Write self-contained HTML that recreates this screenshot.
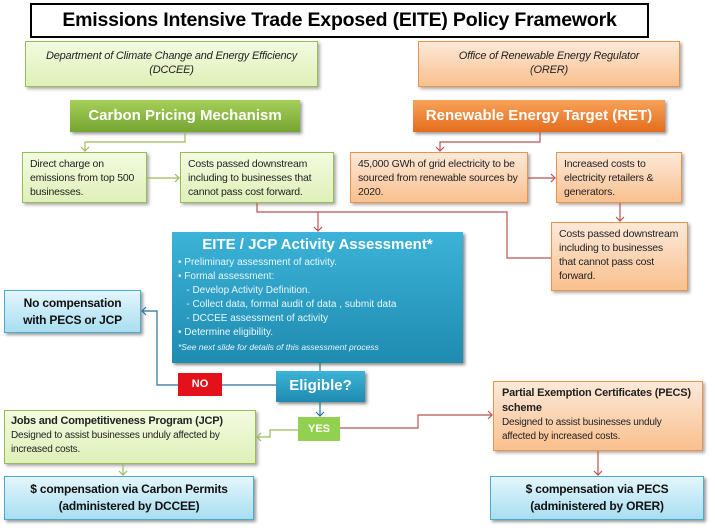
<!DOCTYPE html>
<html><head><meta charset="utf-8"><style>
body{margin:0;width:715px;height:530px;background:#fff;position:relative;overflow:hidden;font-family:"Liberation Sans",sans-serif;}
.b{position:absolute;box-sizing:border-box;}
.g{background:linear-gradient(#f3fbe0,#dff0b8);border:1px solid #9bbb59;box-shadow:2px 2px 3px #aaa;font-size:10.5px;color:#222;padding:4px 7px;line-height:14px;letter-spacing:-0.2px;}
.o{background:linear-gradient(#fde9d9,#f9c08e);border:1px solid #e7944c;box-shadow:2px 2px 3px #aaa;font-size:10.5px;color:#222;padding:4px 7px;line-height:14px;letter-spacing:-0.2px;}
.lb{background:linear-gradient(#e4f6fc,#a8def1);border:1px solid #4aaccc;box-shadow:2px 2px 3px #999;font-weight:bold;font-size:12px;text-align:center;color:#111;line-height:17px;letter-spacing:-0.2px;}
</style></head><body>
<div class="b" style="left:30px;top:3px;width:619px;height:35px;border:2px solid #000;font-weight:bold;font-size:19.5px;text-align:center;line-height:31px;letter-spacing:-0.2px;">Emissions Intensive Trade Exposed (EITE) Policy Framework</div>
<div class="b g" style="left:25px;top:41px;width:293px;height:46px;text-align:center;font-style:italic;font-size:11px;padding-top:7px;">Department of Climate Change and Energy Efficiency<br>(DCCEE)</div>
<div class="b o" style="left:418px;top:41px;width:262px;height:46px;text-align:center;font-style:italic;font-size:11px;padding-top:7px;">Office of Renewable Energy Regulator<br>(ORER)</div>
<div class="b" style="left:70px;top:100px;width:230px;height:32px;background:linear-gradient(#a6cf5a,#75a531);color:#fff;font-weight:bold;font-size:15px;text-align:center;line-height:32px;box-shadow:2px 2px 3px #999;">Carbon Pricing Mechanism</div>
<div class="b" style="left:413px;top:100px;width:252px;height:32px;background:linear-gradient(#f8a25a,#e46c1c);color:#fff;font-weight:bold;font-size:15px;text-align:center;line-height:32px;box-shadow:2px 2px 3px #999;">Renewable Energy Target (RET)</div>
<div class="b g" style="left:22px;top:152px;width:125px;height:51px;">Direct charge on emissions from top 500 businesses.</div>
<div class="b g" style="left:180px;top:152px;width:154px;height:51px;">Costs passed downstream including to businesses that cannot pass cost forward.</div>
<div class="b o" style="left:350px;top:152px;width:178px;height:51px;">45,000 GWh of grid electricity to be sourced from renewable sources by 2020.</div>
<div class="b o" style="left:556px;top:152px;width:126px;height:51px;">Increased costs to electricity retailers &amp; generators.</div>
<div class="b o" style="left:551px;top:222px;width:137px;height:69px;">Costs passed downstream including to businesses that cannot pass cost forward.</div>
<div class="b" style="left:172px;top:232px;width:291px;height:131px;background:linear-gradient(#3cb3d8,#1f8bb0);color:#e8f6fb;box-shadow:2px 2px 3px #888;font-size:10px;line-height:14px;padding:2px 6px;">
<div style="font-weight:bold;font-size:15px;color:#fff;text-align:center;line-height:22px;">EITE / JCP Activity Assessment*</div>
• Preliminary assessment of activity.<br>• Formal assessment:<br>&nbsp;&nbsp;&nbsp;- Develop Activity Definition.<br>&nbsp;&nbsp;&nbsp;- Collect data, formal audit of data , submit data<br>&nbsp;&nbsp;&nbsp;- DCCEE assessment of activity<br>• Determine eligibility.<br><i style="font-size:8.5px;">*See next slide for details of this assessment process</i></div>
<div class="b lb" style="left:4px;top:290px;width:137px;height:43px;padding-top:4px;">No compensation<br>with PECS or JCP</div>
<div class="b" style="left:178px;top:373px;width:44px;height:23px;background:#e3121a;color:#fff;font-weight:bold;font-size:11px;text-align:center;line-height:23px;">NO</div>
<div class="b" style="left:276px;top:371px;width:89px;height:31px;background:linear-gradient(#3cb3d8,#1f8bb0);color:#fff;font-weight:bold;font-size:15px;text-align:center;line-height:30px;box-shadow:2px 2px 3px #888;">Eligible?</div>
<div class="b" style="left:298px;top:417px;width:42px;height:24px;background:#92d050;color:#fff;font-weight:bold;font-size:11px;text-align:center;line-height:24px;">YES</div>
<div class="b g" style="left:4px;top:410px;width:252px;height:54px;font-size:10px;padding:3px 6px;"><b style="font-size:11px;">Jobs and Competitiveness Program (JCP)</b><br>Designed to assist businesses unduly affected by increased costs.</div>
<div class="b o" style="left:493px;top:381px;width:210px;height:70px;font-size:10px;padding:4px 8px;"><b style="font-size:11px;">Partial Exemption Certificates (PECS) scheme</b><br>Designed to assist businesses unduly affected by increased costs.</div>
<div class="b lb" style="left:4px;top:476px;width:250px;height:44px;padding-top:4px;">$ compensation via Carbon Permits<br>(administered by DCCEE)</div>
<div class="b lb" style="left:490px;top:476px;width:214px;height:44px;padding-top:4px;">$ compensation via PECS<br>(administered by ORER)</div>
<svg class="b" style="left:0;top:0" width="715" height="530" fill="none">
<g stroke="#9bbb59" stroke-width="1.2">
<polyline points="185,132 185,142 85,142 85,151"/><polyline points="81,147 85,151 89,147"/>
<line x1="147" y1="178" x2="179" y2="178"/><polyline points="175,174 179,178 175,182"/>
<polyline points="298,430 270,430 270,437 257,437"/><polyline points="261,433 257,437 261,441"/>
<line x1="123" y1="464" x2="123" y2="475"/><polyline points="119,471 123,475 127,471"/>
</g>
<g stroke="#b85450" stroke-width="1.2">
<polyline points="540,132 540,142 440,142 440,151"/><polyline points="436,147 440,151 444,147"/>
<line x1="528" y1="178" x2="555" y2="178"/><polyline points="551,174 555,178 551,182"/>
<line x1="620" y1="203" x2="620" y2="221"/><polyline points="616,217 620,221 624,217"/>
<polyline points="551,258 507,258 507,212 318,212"/>
<polyline points="257,203 257,212 318,212 318,231"/><polyline points="314,227 318,231 322,227"/>
<polyline points="340,428 418,428 418,415 492,415"/><polyline points="488,411 492,415 488,419"/>
<line x1="598" y1="451" x2="598" y2="475"/><polyline points="594,471 598,475 602,471"/>
</g>
<g stroke="#2a6f9e" stroke-width="1.2">
<line x1="320" y1="363" x2="320" y2="371"/>
<line x1="320" y1="402" x2="320" y2="416"/><polyline points="316,412 320,416 324,412"/>
<polyline points="276,385 222,385"/><polyline points="178,385 157,385 157,311 142,311"/><polyline points="146,307 142,311 146,315"/>
</g>
</svg>
</body></html>
